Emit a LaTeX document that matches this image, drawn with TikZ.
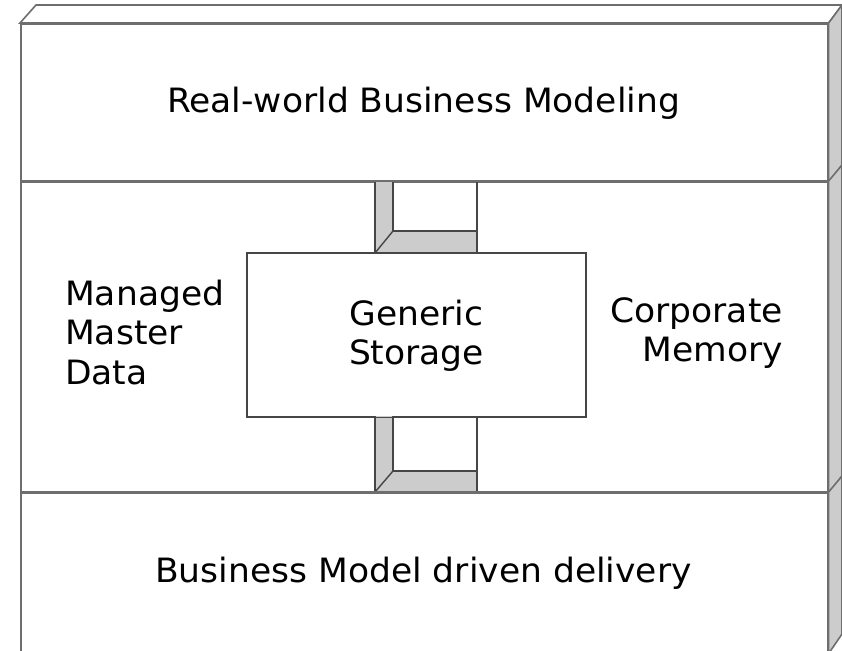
\documentclass[tikz,border=0pt]{standalone}
\usepackage{fontspec}
\setmainfont[FakeStretch=1.03]{DejaVu Sans}
\definecolor{linegray}{RGB}{110,110,110}
\definecolor{darkline}{RGB}{70,70,70}
\definecolor{sidegray}{RGB}{204,204,204}
\begin{document}
\begin{tikzpicture}[x=1pt,y=-1pt,
  edge/.style={draw=linegray, line width=1.6pt, line join=miter},
  face/.style={edge, fill=white},
  side/.style={edge, fill=sidegray},
  tubeline/.style={draw=darkline, line width=1.4pt},
  lbl/.style={font=\fontsize{33.5}{39.5}\selectfont, inner sep=0pt, text=black}]
\useasboundingbox (0,0) rectangle (842,650);
\clip (0,0) rectangle (842,650);
% slabs: front faces
\node[face, rectangle, minimum width=807pt, minimum height=158pt, anchor=north west, inner sep=0pt] (top) at (20,23) {};
\node[face, rectangle, minimum width=807pt, minimum height=311pt, anchor=north west, inner sep=0pt] (mid) at (20,181) {};
\node[face, rectangle, minimum width=807pt, minimum height=160pt, anchor=north west, inner sep=0pt] (bot) at (20,492) {};
% top face
\draw[face] (top.north west) -- (36,5) -- (842,5) -- (top.north east) -- cycle;
% right faces
\draw[side] (top.north east) -- (842,5) -- (842,165) -- (top.south east) -- cycle;
\draw[side] (mid.north east) -- (842,165) -- (842,476) -- (mid.south east) -- cycle;
\draw[side] (bot.north east) -- (842,476) -- (842,634) -- (bot.south east) -- cycle;
% generic storage box
\node[draw=darkline, line width=1.4pt, fill=white, rectangle, minimum width=338pt, minimum height=163pt, anchor=north west, inner sep=0pt] (store) at (247,253) {};
% upper tube
\fill[sidegray] (375,181) -- (393,181) -- (393,231) -- (477,231) -- (477,253) -- (375,253) -- cycle;
\draw[tubeline] (375,181) -- (375,253);
\draw[tubeline] (393,181) -- (393,231) -- (477,231);
\draw[tubeline] (477,181) -- (477,253);
\draw[tubeline] (375,253) -- (393,231);
% lower tube
\fill[sidegray] (375,416) -- (393,416) -- (393,471) -- (477,471) -- (477,492) -- (375,492) -- cycle;
\draw[tubeline] (375,416) -- (375,492);
\draw[tubeline] (393,416) -- (393,471) -- (477,471);
\draw[tubeline] (477,416) -- (477,492);
\draw[tubeline] (375,492) -- (393,471);
% redraw box edges and slab borders over tubes
\draw[draw=darkline, line width=1.4pt] (store.north west) rectangle (store.south east);
\draw[edge] (mid.north west) -- (mid.north east);
\draw[edge] (bot.north west) -- (bot.north east);
% labels
\node[lbl, anchor=base] (t1) at (423.5,112) {Real-world Business Modeling};
\node[lbl, anchor=base west] (t2) at (65,305) {\vtop{\halign{#\hfil\cr Managed\cr Master\cr Data\cr}}};
\node[lbl, anchor=base] (t3) at (416.5,325) {\vtop{\halign{\hfil#\hfil\cr Generic\cr Storage\cr}}};
\node[lbl, anchor=base east] (t4) at (783,322) {\vtop{\halign{\hfil#\cr Corporate\cr Memory\cr}}};
\node[lbl, anchor=base] (t5) at (423.5,582) {Business Model driven delivery};
\end{tikzpicture}
\end{document}
